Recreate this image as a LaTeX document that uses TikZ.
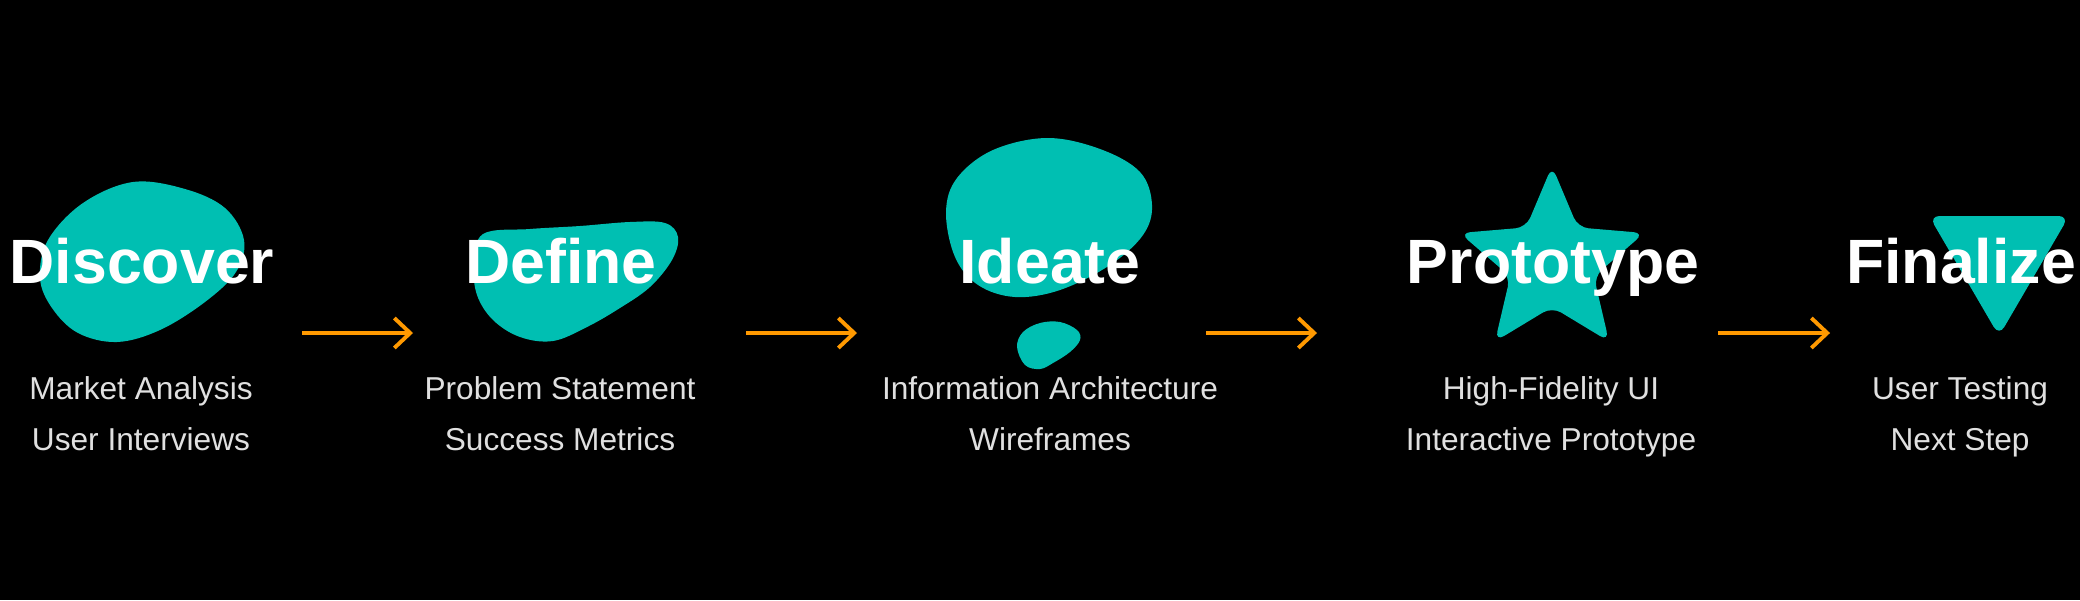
\documentclass[tikz,border=0pt]{standalone}
\usepackage{fontspec}
\setmainfont{Liberation Sans}
\usetikzlibrary{arrows.meta}
\definecolor{tealA}{HTML}{00BFB2}
\definecolor{arrC}{HTML}{FF9900}
\definecolor{subC}{HTML}{E0E0E0}
\begin{document}
\begin{tikzpicture}[x=0.01cm,y=-0.01cm,
  blob/.style={fill=tealA, draw=none},
  ttl/.style={text=white, font=\fontsize{17.8}{20}\selectfont\bfseries, anchor=base, inner sep=0pt},
  subt/.style={text=subC, font=\fontsize{9}{10}\selectfont, anchor=base, inner sep=0pt},
  flow/.style={draw=arrC, line width=1.1pt, -{Straight Barb[length=4.5pt,width=8.5pt]}}]
\fill[black] (0,0) rectangle (2080,600);
\useasboundingbox (0,0) rectangle (2080,600);
% Discover blob
\fill[blob] plot[smooth cycle, tension=0.6] coordinates {(133,182) (185,189) (225,208) (244,240) (236,272) (205,302) (160,330) (117,342) (78,333) (52,308) (40,278) (48,240) (83,203)};
% Define blob
\fill[blob] plot[smooth cycle, tension=0.6] coordinates {(483,234) (530,229) (580,226) (630,222) (665,223) (678,237) (672,260) (650,287) (620,308) (587,327) (553,341) (520,337) (493,320) (477,295) (474,265)};
% Ideate blobs
\fill[blob] plot[smooth cycle, tension=0.6] coordinates {(946,212) (957,178) (993,150) (1047,138) (1100,149) (1140,172) (1152,205) (1143,235) (1110,265) (1060,290) (1015,297) (978,285) (955,257)};
\fill[blob] plot[smooth cycle, tension=0.6] coordinates {(1017,347) (1023,332) (1040,323) (1060,322) (1077,330) (1080,340) (1070,352) (1053,363) (1040,369) (1025,365)};
% Prototype star
\fill[blob, rounded corners=3pt, shift={(1552,263)}] (-90:97) -- (-126:44) -- (-162:97) -- (-198:44) -- (-234:97) -- (-270:44) -- (-306:97) -- (-342:44) -- (-18:97) -- (-54:44) -- cycle;
% Finalize triangle
\fill[blob, rounded corners=3pt] (1929,216) -- (2069,216) -- (1999,336) -- cycle;
% titles
\node[ttl] (t1) at (142,283) {Discover};
\node[ttl] (t2) at (561,283) {Define};
\node[ttl] (t3) at (1050,283) {Ideate};
\node[ttl] (t4) at (1553,283) {Prototype};
\node[ttl] (t5) at (1961,283) {Finalize};
% subtitles
\node[subt] (s1a) at (141,399) {Market Analysis};
\node[subt] (s1b) at (141,450) {User Interviews};
\node[subt] (s2a) at (560,399) {Problem Statement};
\node[subt] (s2b) at (560,450) {Success Metrics};
\node[subt] (s3a) at (1050,399) {Information Architecture};
\node[subt] (s3b) at (1050,450) {Wireframes};
\node[subt] (s4a) at (1551,399) {High-Fidelity UI};
\node[subt] (s4b) at (1551,450) {Interactive Prototype};
\node[subt] (s5a) at (1960,399) {User Testing};
\node[subt] (s5b) at (1960,450) {Next Step};
% arrows
\coordinate (a1s) at (302,333); \coordinate (a1e) at (413,333);
\coordinate (a2s) at (746,333); \coordinate (a2e) at (857,333);
\coordinate (a3s) at (1206,333); \coordinate (a3e) at (1317,333);
\coordinate (a4s) at (1718,333); \coordinate (a4e) at (1830,333);
\draw[flow] (a1s) -- (a1e);
\draw[flow] (a2s) -- (a2e);
\draw[flow] (a3s) -- (a3e);
\draw[flow] (a4s) -- (a4e);
\end{tikzpicture}
\end{document}
